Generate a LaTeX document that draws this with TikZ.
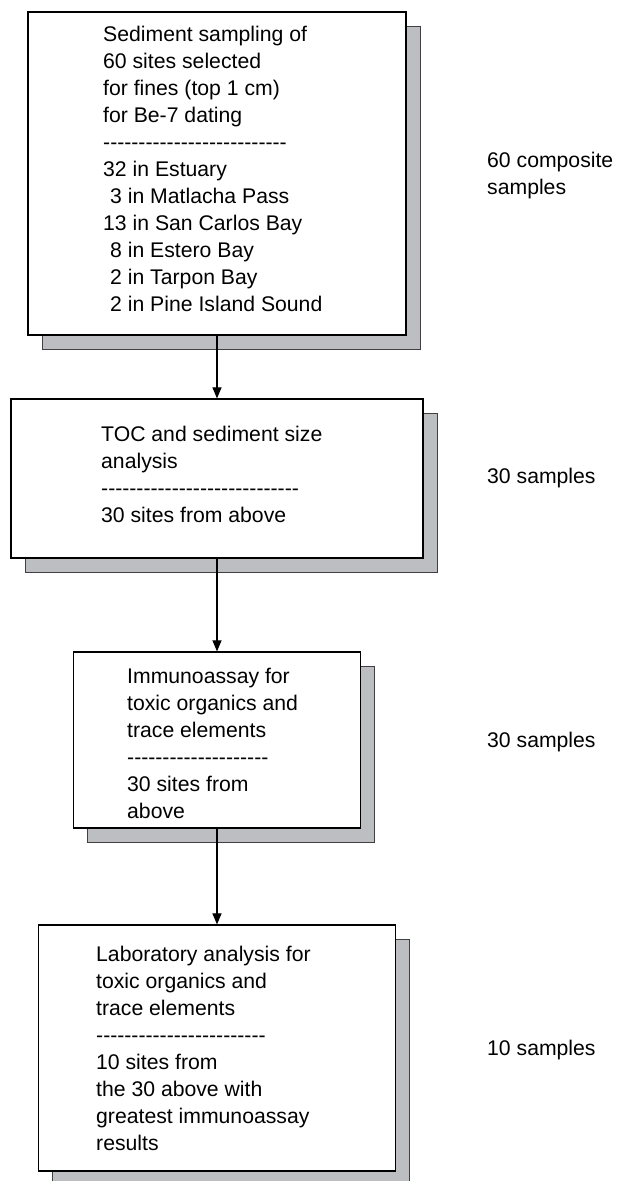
\documentclass[tikz,border=0pt]{standalone}
\usepackage{fontspec}
\setmainfont{Liberation Sans}[Ligatures=TeXOff]
\usepackage{tikz}
\usetikzlibrary{arrows.meta,shadows,positioning}
\definecolor{shadowgray}{RGB}{189,190,193}

\begin{document}
\begin{tikzpicture}[x=1pt,y=-1pt,
		stepbox/.style={draw, line width=1.2pt, fill=white, inner sep=0pt,
			general shadow={fill=shadowgray, draw=black!75, line width=1pt, shadow xshift=14pt, shadow yshift=-14pt}},
		steptext/.style={anchor=base west, align=left, inner sep=0pt, font=\fontsize{21.2}{27}\selectfont},
		flow/.style={-{Triangle[width=9pt,length=11pt]}, line width=1.1pt}]
		\useasboundingbox (0,0) rectangle (616,1181);
		\node[stepbox, minimum width=378pt, minimum height=323pt] (s1) at (217,173.5) {};
		\node[stepbox, minimum width=412pt, minimum height=159pt] (s2) at (217,478.5) {};
		\node[stepbox, minimum width=287pt, minimum height=176pt] (s3) at (217,740) {};
		\node[stepbox, minimum width=357pt, minimum height=246pt] (s4) at (217,1048) {};
		\node[steptext] (t1) at (103,311.5) {Sediment sampling of\\60 sites selected\\for fines (top 1 cm)\\for Be-7 dating\\--------------------------\\32 in Estuary\\\hspace*{7pt}3 in Matlacha Pass\\13 in San Carlos Bay\\\hspace*{7pt}8 in Estero Bay\\\hspace*{7pt}2 in Tarpon Bay\\\hspace*{7pt}2 in Pine Island Sound};
		\node[steptext] (t2) at (101,522) {TOC and sediment size\\analysis\\----------------------------\\30 sites from above};
		\node[steptext] (t3) at (127,818) {Immunoassay for\\toxic organics and\\trace elements\\--------------------\\30 sites from\\above};
		\node[steptext] (t4) at (96,1150) {Laboratory analysis for\\toxic organics and\\trace elements\\------------------------\\10 sites from\\the 30 above with\\greatest immunoassay\\results};
		\node[steptext] (n1) at (487,194) {60 composite\\samples};
		\node[steptext] (n2) at (487,483) {30 samples};
		\node[steptext] (n3) at (487,747) {30 samples};
		\node[steptext] (n4) at (487,1055) {10 samples};
		\path[flow]
		(s1) edge (s2)
		(s2) edge (s3)
		(s3) edge (s4)
		;
	\end{tikzpicture}
\end{document}
